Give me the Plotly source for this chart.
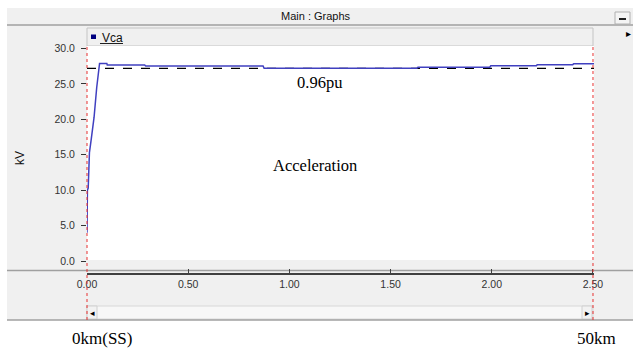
import plotly.graph_objects as go

# ---- data ----
dist = [0.000, 0.002, 0.006, 0.012, 0.020, 0.035, 0.048, 0.058, 0.062, 0.098,
        0.100, 0.285, 0.290, 0.870, 0.875, 1.630, 1.635, 1.990, 1.995, 2.220,
        2.225, 2.400, 2.405, 2.505]
vca = [4.0, 10.0, 10.3, 15.3, 17.0, 20.3, 24.5, 27.7, 27.9, 27.9,
       27.67, 27.67, 27.53, 27.53, 27.2, 27.2, 27.35, 27.35, 27.58, 27.58,
       27.72, 27.72, 27.86, 27.86]
ref_x = [0.0, 2.505]
ref_v = [27.2, 27.2]

x_ticks = [0.0, 0.5, 1.0, 1.5, 2.0, 2.5]
x_labels = ["0.00", "0.50", "1.00", "1.50", "2.00", "2.50"]
y_ticks = [0, 5, 10, 15, 20, 25, 30]
y_labels = ["0.0", "5.0", "10.0", "15.0", "20.0", "25.0", "30.0"]
ends = [0.0, 2.5]
end_labels = ["0km(SS)", "50km"]

# ---- layout geometry (pixels) ----
WIDTH, HEIGHT = 633, 349
L, R, T, B = 87, 594, 46, 273
PW, PH = R - L, B - T
XR = [0.0, 2.505]
YR = [-1.694, 30.353]


def px(p):
    return (p - L) / PW


def py(p):
    return (B - p) / PH


def dx(v):
    return (v - XR[0]) / (XR[1] - XR[0])


PANEL = "#f0f0f0"
EDGE = "#a0a0a0"

fig = go.Figure()
fig.add_trace(go.Scatter(x=ref_x, y=ref_v, mode="lines",
                         line=dict(color="black", width=1.2, dash="dash"),
                         hoverinfo="skip", showlegend=False))
fig.add_trace(go.Scatter(x=dist, y=vca, mode="lines", name="Vca",
                         line=dict(color="#4040c0", width=1.5),
                         showlegend=False))

shapes = []
shapes.append(dict(type="rect", xref="paper", yref="paper", x0=px(7), x1=px(633),
                   y0=py(8), y1=py(320), fillcolor=PANEL, line=dict(width=0), layer="below"))
shapes.append(dict(type="line", xref="paper", yref="paper", x0=px(7), x1=px(633),
                   y0=py(25), y1=py(25), line=dict(color=EDGE, width=1.5), layer="below"))
shapes.append(dict(type="rect", xref="paper", yref="paper", x0=px(615), x1=px(630),
                   y0=py(12), y1=py(24), fillcolor="#f4f4f4",
                   line=dict(color="#b0b0b0", width=1), layer="below"))
shapes.append(dict(type="line", xref="paper", yref="paper", x0=px(619), x1=px(626),
                   y0=py(19), y1=py(19), line=dict(color="#202020", width=2), layer="below"))
shapes.append(dict(type="rect", xref="paper", yref="paper", x0=px(87), x1=px(593),
                   y0=py(28), y1=py(46), fillcolor=PANEL,
                   line=dict(color="#c4c4c4", width=1), layer="below"))
shapes.append(dict(type="rect", xref="paper", yref="paper", x0=px(87), x1=px(594),
                   y0=py(260), y1=py(46), fillcolor="white", line=dict(width=0), layer="below"))
shapes.append(dict(type="line", xref="paper", yref="paper", x0=px(7), x1=px(633),
                   y0=py(270.5), y1=py(270.5), line=dict(color=EDGE, width=1.5), layer="below"))
shapes.append(dict(type="rect", xref="paper", yref="paper", x0=px(87), x1=px(593),
                   y0=py(306), y1=py(319), fillcolor="#f7f7f7",
                   line=dict(color="#d8d8d8", width=1), layer="below"))
shapes.append(dict(type="rect", xref="paper", yref="paper", x0=px(87), x1=px(97),
                   y0=py(306), y1=py(319), fillcolor="#f2f2f2",
                   line=dict(color="#d0d0d0", width=1), layer="below"))
shapes.append(dict(type="rect", xref="paper", yref="paper", x0=px(582), x1=px(592),
                   y0=py(306), y1=py(319), fillcolor="#f2f2f2",
                   line=dict(color="#d0d0d0", width=1), layer="below"))
shapes.append(dict(type="line", xref="paper", yref="paper", x0=px(7), x1=px(633),
                   y0=py(320), y1=py(320), line=dict(color=EDGE, width=1.5), layer="below"))
shapes.append(dict(type="rect", xref="paper", yref="paper", x0=px(91), x1=px(96),
                   y0=py(34.5), y1=py(39), fillcolor="#000080", line=dict(width=0)))
shapes.append(dict(type="line", xref="paper", yref="paper", x0=px(100), x1=px(123),
                   y0=py(43.5), y1=py(43.5), line=dict(color="#202020", width=1)))
for e in ends:
    shapes.append(dict(type="line", xref="paper", yref="paper", x0=dx(e), x1=dx(e),
                       y0=py(320), y1=py(46), line=dict(color="#e83030", width=1, dash="3px,3px"),
                       layer="above"))


def note(text, x, y, family, size, color="#101010", xanchor="center", angle=0):
    return dict(text=text, xref="paper", yref="paper", x=px(x), y=py(y),
                xanchor=xanchor, yanchor="middle", showarrow=False, textangle=angle,
                font=dict(family=family, size=size, color=color))


ann = [
    note("Main : Graphs", 316, 16, "Liberation Sans", 11),
    note("Vca", 100, 37.5, "Liberation Sans", 12, xanchor="left"),
    note("kV", 20, 158, "Liberation Sans", 12, angle=-90),
    note("0.96pu", 319, 82, "Liberation Serif", 16.5, color="black"),
    note("Acceleration", 315, 165, "Liberation Serif", 16.5, color="black"),
    note("\u25b8", 628, 33, "DejaVu Sans", 10, color="black"),
    note("\u25c2", 92, 312.5, "DejaVu Sans", 9, color="black"),
    note("\u25b8", 587, 312.5, "DejaVu Sans", 9, color="black"),
]
for lab, c in zip(end_labels, [102, 596]):
    ann.append(note(lab, c, 338, "Liberation Serif", 17, color="black"))

fig.update_layout(
    width=WIDTH, height=HEIGHT,
    margin=dict(l=L, r=WIDTH - R, t=T, b=HEIGHT - B),
    paper_bgcolor="white", plot_bgcolor="white",
    shapes=shapes, annotations=ann, showlegend=False,
    xaxis=dict(range=XR, tickvals=x_ticks, ticktext=x_labels, showgrid=False, zeroline=False,
               showline=True, linecolor="#404040", linewidth=2, ticks="inside", ticklen=4,
               tickcolor="#404040", tickfont=dict(family="Liberation Sans", size=10.5, color="#333333")),
    yaxis=dict(range=YR, tickvals=y_ticks, ticktext=y_labels, showgrid=False, zeroline=False,
               showline=False, ticks="outside", ticklen=5, tickcolor="#333333",
               ticklabelstandoff=4,
               tickfont=dict(family="Liberation Sans", size=10.5, color="#333333")),
)

fig.write_html("out.html")
